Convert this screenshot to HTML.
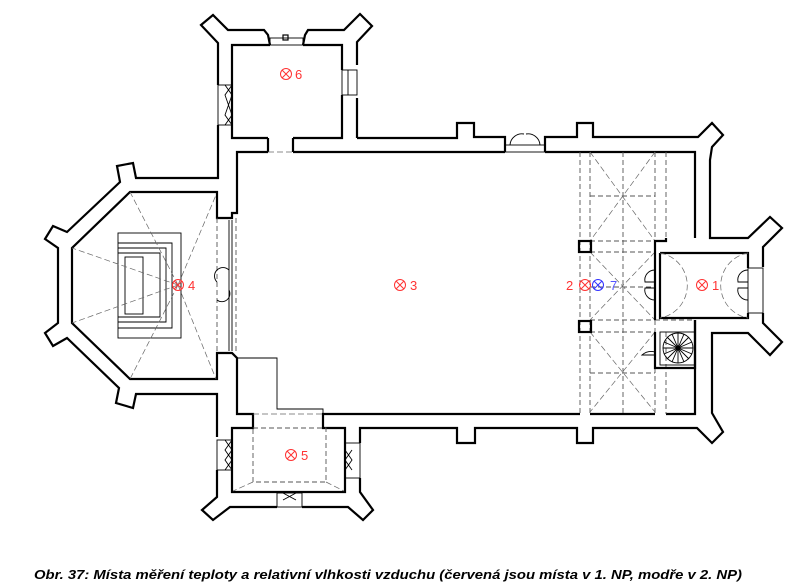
<!DOCTYPE html>
<html><head><meta charset="utf-8"><style>
html,body{margin:0;padding:0;background:#fff;width:810px;height:587px;overflow:hidden}
svg{display:block}
.w{fill:none;stroke:#000;stroke-width:2.2;stroke-linejoin:miter}
.t{fill:none;stroke:#000;stroke-width:0.9}
.d{fill:none;stroke:#555;stroke-width:0.9;stroke-dasharray:5 3}
.dd{fill:none;stroke:#666;stroke-width:0.7;stroke-dasharray:6 3}
.r{fill:none;stroke:#f33;stroke-width:1}
.b{fill:none;stroke:#33f;stroke-width:1}
</style></head><body>
<svg width="810" height="587" viewBox="0 0 810 587" xmlns="http://www.w3.org/2000/svg">
<!-- outer wall outline -->
<polyline class="w" points="357,138 457,138 457,123 474,123 474,137 505,137 505,152"/>
<polyline class="w" points="545,152 545,137 577,137 577,123 593,123 593,137 698,137 712,123 723,135 712,147 710,160 710,238 748,238 770,217 782,228 763,247 763,267"/>
<polyline class="w" points="763,313 763,323 782,342 770,355 748,333 712,333 712,413 723,432 712,443 697,428 593,428 593,443 577,443 577,428 475,428 475,443 457,443 457,428 360,428 360,443"/>
<polyline class="w" points="360,478 360,492 373,510 363,520 348,507 302,507"/>
<polyline class="w" points="277,507 230,507 213,520 202,510 217,497 217,470"/>
<polyline class="w" points="217,437 217,394 136,394 133,408 116,403 119,388 67,338 53,346 45,333 58,323 58,248 45,239 53,226 67,232 120,182 117,166 133,163 136,178 218,178 218,125"/>
<polyline class="w" points="218,85 218,43 201,25 213,15 228,30 264,30 268,35 270,45"/>
<polyline class="w" points="303,45 305,35 308,30 344,30 360,14 372,26 357,42 357,65"/>
<polyline class="w" points="357,98 357,138"/>
<!-- tower 6 inner -->
<polyline class="w" points="268,138 232,138 232,45 270,45"/>
<polyline class="w" points="303,45 342,45 342,70"/>
<polyline class="w" points="342,95 342,138 293,138"/>
<rect x="270" y="38" width="33" height="7" class="t"/><rect x="283" y="35" width="5" height="5" class="w" style="stroke-width:1.2"/>
<rect x="342" y="70" width="15" height="25" class="t"/><line x1="348" y1="70" x2="348" y2="95" class="t"/>
<rect x="218" y="85" width="14" height="40" class="t"/><path d="M225,85 L232,95 L225,115 L232,125 M232,85 L225,95 L232,115 L225,125" class="t"/>
<line x1="268" y1="138" x2="268" y2="152" class="w"/><line x1="293" y1="138" x2="293" y2="152" class="w"/>
<line x1="268" y1="152" x2="293" y2="152" class="dd"/>
<!-- nave inner -->
<polyline class="w" points="268,152 237,152 237,213 232,213 232,218 217,218 217,192 130,192 72,248 72,323 130,379 217,379 217,353 232,353 237,358 237,414 253,414 253,428 232,428 232,492 345,492 345,428 323,428 323,414 580,414"/>
<polyline class="w" points="293,152 505,152"/><polyline class="w" points="545,152 695,152 695,238"/>
<polyline class="w" points="590,414 655,414"/><polyline class="w" points="666,414 695,414 695,320"/>
<!-- door top -->
<rect x="505" y="145" width="40" height="7" class="t"/>
<path d="M510,145 A12,12 0 0 1 524,134 M540,145 A12,12 0 0 0 526,134" class="t"/>
<!-- apse arch lines -->
<line x1="217" y1="218" x2="217" y2="353" class="d"/><line x1="236" y1="218" x2="236" y2="353" class="d"/>
<line x1="229" y1="220" x2="229" y2="351" class="t"/><line x1="232" y1="220" x2="232" y2="351" class="t"/>
<path d="M229,270 A8,8 0 0 0 217,282 M229,290 A8,8 0 0 1 217,300" class="t"/>
<!-- altar -->
<rect x="118" y="233" width="63" height="105" class="t"/>
<polyline class="t" points="118,243 172,243 172,328 118,328"/>
<polyline class="t" points="118,248 166,248 166,322 118,322"/>
<polyline class="t" points="118,253 160,253 160,317 118,317"/>
<rect x="125" y="257" width="18" height="57" class="t"/>
<g class="dd"><line x1="178" y1="285" x2="130" y2="192"/><line x1="178" y1="285" x2="216" y2="195"/><line x1="178" y1="285" x2="72" y2="248"/><line x1="178" y1="285" x2="72" y2="323"/><line x1="178" y1="285" x2="130" y2="379"/><line x1="178" y1="285" x2="216" y2="379"/></g>
<!-- thin line south -->
<polyline class="t" points="237,358 277,358 277,409 323,409 323,414"/>
<!-- tower 5 -->
<rect x="253" y="428" width="73" height="54" class="d"/>
<line x1="253" y1="482" x2="233" y2="491" class="dd"/><line x1="326" y1="482" x2="344" y2="491" class="dd"/>
<line x1="253" y1="414" x2="323" y2="414" class="dd"/>
<rect x="217" y="440" width="15" height="30" class="t"/><path d="M225,440 L232,450 L225,460 L232,470 M232,440 L225,450 L232,460 L225,470" class="t"/>
<rect x="345" y="443" width="15" height="35" class="t"/><path d="M345,450 L352,460 L345,470 M352,450 L345,460 L352,470" class="t"/>
<rect x="277" y="493" width="25" height="14" class="t"/><path d="M283,493 L296,500 M296,493 L283,500" class="t"/>
<!-- chancel bays -->
<g class="d">
<line x1="580" y1="152" x2="580" y2="414"/><line x1="590" y1="152" x2="590" y2="414"/>
<line x1="623" y1="152" x2="623" y2="414"/><line x1="655" y1="152" x2="655" y2="414"/>
<line x1="666" y1="152" x2="666" y2="241"/><line x1="666" y1="332" x2="666" y2="414"/>
<line x1="590" y1="196" x2="655" y2="196"/><line x1="590" y1="241" x2="655" y2="241"/>
<line x1="590" y1="252" x2="655" y2="252"/><line x1="590" y1="287" x2="655" y2="287"/>
<line x1="590" y1="320" x2="655" y2="320"/><line x1="590" y1="332" x2="655" y2="332"/>
<line x1="590" y1="373" x2="655" y2="373"/><line x1="655" y1="320" x2="695" y2="320"/>
</g>
<g class="dd">
<line x1="590" y1="152" x2="655" y2="241"/><line x1="655" y1="152" x2="590" y2="241"/>
<line x1="590" y1="252" x2="655" y2="320"/><line x1="655" y1="252" x2="590" y2="320"/>
<line x1="590" y1="332" x2="655" y2="412"/><line x1="655" y1="332" x2="590" y2="412"/>
</g>
<rect x="579" y="241" width="12" height="11" class="w"/><rect x="579" y="321" width="12" height="11" class="w"/>
<polyline class="w" points="666,238 666,241 655,241 655,320"/>
<polyline class="w" points="655,332 655,368 695,368 695,320"/>
<!-- porch -->
<polyline class="w" points="660,253 748,253 748,268"/><polyline class="w" points="748,313 748,318 660,318 660,253"/>
<rect x="748" y="268" width="15" height="45" class="t"/>
<path d="M748,270 A10,10 0 0 0 738,282 L748,282 M748,300 A10,10 0 0 1 738,288 L748,288" class="t"/>
<path d="M655,270 A10,10 0 0 0 645,282 L655,282 M655,300 A10,10 0 0 1 645,288 L655,288" class="t"/>
<path d="M660,253 A33,33 0 0 1 660,318" class="dd"/><path d="M748,253 A33,33 0 0 0 748,318" class="dd"/>
<path d="M655,352 A14,14 0 0 0 642,355 L655,355" class="t"/>
<!-- stair -->
<rect x="660" y="332" width="35" height="33" class="t"/>
<circle cx="678" cy="348" r="15" class="t"/><circle cx="678" cy="348" r="2" class="t"/>
<g class="t" stroke-width="0.6"><line x1="663" y1="348" x2="693" y2="348"/><line x1="678" y1="333" x2="678" y2="363"/><line x1="667" y1="337" x2="689" y2="359"/><line x1="689" y1="337" x2="667" y2="359"/><line x1="664" y1="342" x2="692" y2="354"/><line x1="664" y1="354" x2="692" y2="342"/><line x1="672" y1="334" x2="684" y2="362"/><line x1="684" y1="334" x2="672" y2="362"/></g>
<!-- markers -->
<g font-family="Liberation Sans, sans-serif" font-size="13">
<g class="r"><circle cx="286" cy="74" r="5.5"/><path d="M282,70 L290,78 M290,70 L282,78"/></g><text x="295" y="79" fill="#f33">6</text>
<g class="r"><circle cx="178" cy="285" r="5.5"/><path d="M174,281 L182,289 M182,281 L174,289"/></g><text x="188" y="290" fill="#f33">4</text>
<g class="r"><circle cx="400" cy="285" r="5.5"/><path d="M396,281 L404,289 M404,281 L396,289"/></g><text x="410" y="290" fill="#f33">3</text>
<text x="566" y="290" fill="#f33">2</text>
<g class="r"><circle cx="585" cy="285" r="5.5"/><path d="M581,281 L589,289 M589,281 L581,289"/></g>
<g class="b"><circle cx="598" cy="285" r="5.5"/><path d="M594,281 L602,289 M602,281 L594,289"/></g><text x="610" y="290" fill="#55f">7</text>
<g class="r"><circle cx="702" cy="285" r="5.5"/><path d="M698,281 L706,289 M706,281 L698,289"/></g><text x="712" y="290" fill="#f33">1</text>
<g class="r"><circle cx="291" cy="455" r="5.5"/><path d="M287,451 L295,459 M295,451 L287,459"/></g><text x="301" y="460" fill="#f33">5</text>
</g>
<text x="34" y="579" font-family="Liberation Sans, sans-serif" font-size="12.5" font-weight="bold" font-style="italic" textLength="708" lengthAdjust="spacingAndGlyphs">Obr. 37: Místa měření teploty a relativní vlhkosti vzduchu (červená jsou místa v 1. NP, modře v 2. NP)</text>
</svg>
</body></html>
